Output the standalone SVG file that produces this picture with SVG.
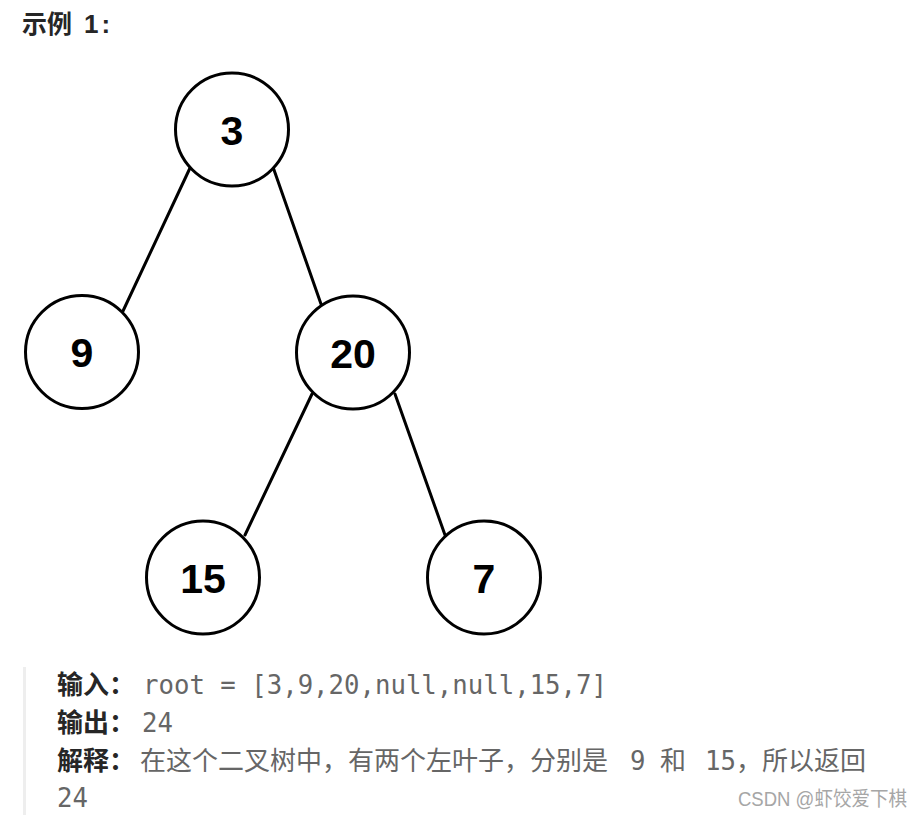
<svg xmlns="http://www.w3.org/2000/svg" width="924" height="815" viewBox="0 0 924 815">
<style>
.node circle{fill:#fff;stroke:#000;stroke-width:3}
.node text{font-family:"Liberation Sans",Arial,sans-serif;font-weight:bold;font-size:41px;fill:#000;text-anchor:middle}
.edge{stroke:#000;stroke-width:3;stroke-linecap:round}
.lbl{font-family:"Noto Sans CJK SC","Liberation Sans",sans-serif;font-weight:bold;font-size:26px;fill:#262626}
.cjk{font-family:"Noto Sans CJK SC",sans-serif;font-size:26px;fill:#666}
.mono{font-family:"DejaVu Sans Mono",monospace;font-size:25.7px;fill:#666;white-space:pre}
</style>
<rect width="924" height="815" fill="#fff"/>
<text x="22" y="33" font-family="'Noto Sans CJK SC','Liberation Sans',sans-serif" font-weight="bold" font-size="25" fill="#262626">示例<tspan x="84" font-family="'Liberation Sans',sans-serif" font-size="26" letter-spacing="3">1:</tspan></text>
<g id="connectors">
<line class="edge" x1="190" y1="168" x2="123" y2="311"/>
<line class="edge" x1="273" y1="167" x2="321" y2="304"/>
<line class="edge" x1="312" y1="394" x2="245" y2="535"/>
<line class="edge" x1="395" y1="394" x2="445" y2="535"/>
</g>
<g id="node-3" class="node"><circle cx="232" cy="129.5" r="56.5"/><text x="232" y="145">3</text></g>
<g id="node-9" class="node"><circle cx="82" cy="352" r="56.5"/><text x="82" y="367">9</text></g>
<g id="node-20" class="node"><circle cx="353" cy="352.5" r="56.5"/><text x="353" y="368">20</text></g>
<g id="node-15" class="node"><circle cx="203" cy="577.5" r="56.5"/><text x="203" y="593">15</text></g>
<g id="node-7" class="node"><circle cx="484" cy="577.5" r="56.5"/><text x="484" y="593">7</text></g>
<rect x="23" y="667" width="3" height="148" fill="#eeeeee"/>
<text class="lbl" x="57" y="694">输入：</text>
<text class="mono" x="143" y="694">root = [3,9,20,null,null,15,7]</text>
<text class="lbl" x="57" y="732">输出：</text>
<text class="mono" x="142" y="732">24</text>
<text class="lbl" x="57" y="770">解释：</text>
<text class="cjk" x="140" y="770">在这个二叉树中，有两个左叶子，分别是</text>
<text class="mono" x="630" y="770">9</text>
<text class="cjk" x="660" y="770">和</text>
<text class="mono" x="705" y="770">15</text>
<text class="cjk" x="736" y="770">，所以返回</text>
<text class="mono" x="57" y="807">24</text>
<text x="738" y="806" font-family="'Liberation Sans','Noto Sans CJK SC',sans-serif" font-size="20" fill="#a6a6a6" textLength="169" lengthAdjust="spacingAndGlyphs">CSDN @虾饺爱下棋</text>
</svg>
